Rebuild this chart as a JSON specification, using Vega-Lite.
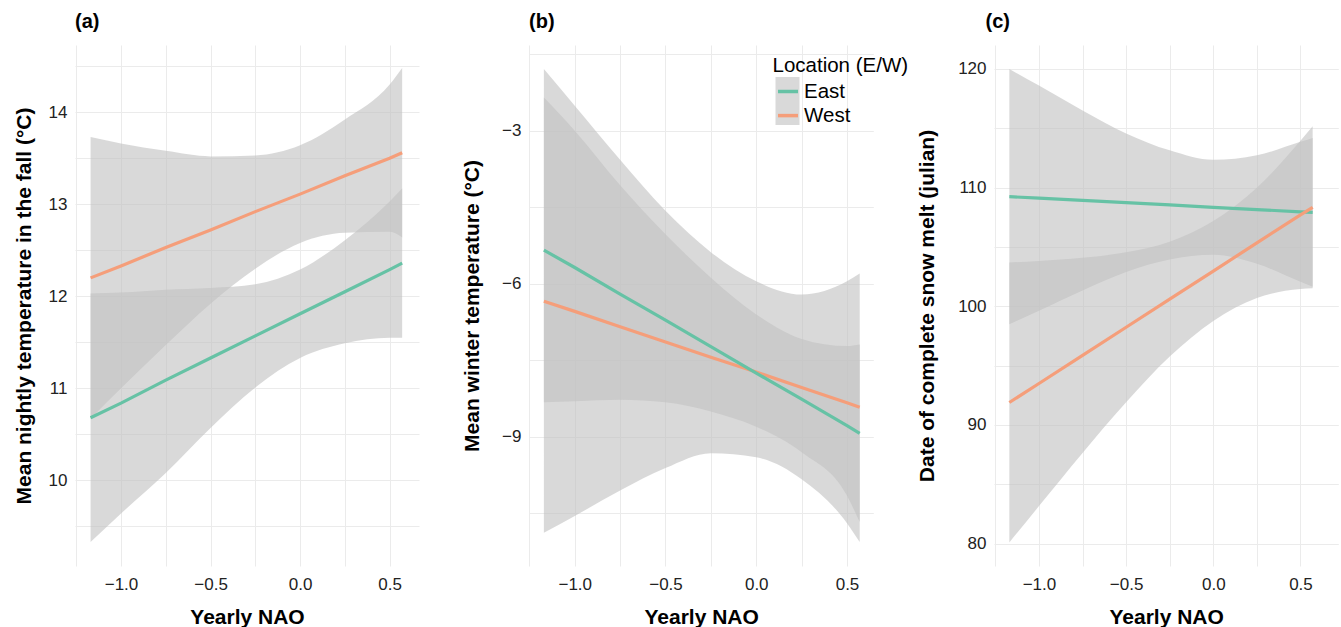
{
  "$schema": "https://vega.github.io/schema/vega-lite/v6.json",
  "background": "white",
  "autosize": {"type": "pad"},
  "padding": {"left": 13, "top": 12, "right": 0, "bottom": 0},
  "config": {
    "font": "Liberation Sans",
    "view": {"stroke": null},
    "axis": {
      "domain": false, "ticks": false, "grid": true, "gridColor": "#ebebeb", "gridWidth": 1,
      "labelFont": "Liberation Sans", "labelFontSize": 17, "labelColor": "#222222",
      "titleFont": "Liberation Sans", "titleFontSize": 21, "titleFontWeight": "bold", "titleColor": "#000000",
      "labelOverlap": false, "labelFlush": false, "labelPadding": 8
    },
    "title": {"font": "Liberation Sans", "fontSize": 20, "fontWeight": "bold", "anchor": "start", "frame": "group", "color": "#000000", "baseline": "alphabetic", "offset": 12.7},
    "concat": {"spacing": 42}
  },
  "data": {"values": [
    {"p": "a", "loc": "West", "x": -1.17, "fit": 12.20, "lo": 10.67, "hi": 13.73},
    {"p": "a", "loc": "West", "x": -1.0, "fit": 12.33, "lo": 11.00, "hi": 13.66},
    {"p": "a", "loc": "West", "x": -0.75, "fit": 12.53, "lo": 11.47, "hi": 13.58},
    {"p": "a", "loc": "West", "x": -0.5, "fit": 12.72, "lo": 11.92, "hi": 13.52},
    {"p": "a", "loc": "West", "x": -0.25, "fit": 12.92, "lo": 12.30, "hi": 13.53},
    {"p": "a", "loc": "West", "x": 0.0, "fit": 13.11, "lo": 12.58, "hi": 13.64},
    {"p": "a", "loc": "West", "x": 0.25, "fit": 13.31, "lo": 12.69, "hi": 13.92},
    {"p": "a", "loc": "West", "x": 0.5, "fit": 13.50, "lo": 12.70, "hi": 14.30},
    {"p": "a", "loc": "West", "x": 0.57, "fit": 13.56, "lo": 12.64, "hi": 14.48},
    {"p": "a", "loc": "East", "x": -1.17, "fit": 10.68, "lo": 9.33, "hi": 12.03},
    {"p": "a", "loc": "East", "x": -1.0, "fit": 10.84, "lo": 9.64, "hi": 12.04},
    {"p": "a", "loc": "East", "x": -0.75, "fit": 11.09, "lo": 10.08, "hi": 12.07},
    {"p": "a", "loc": "East", "x": -0.5, "fit": 11.33, "lo": 10.57, "hi": 12.09},
    {"p": "a", "loc": "East", "x": -0.25, "fit": 11.57, "lo": 11.01, "hi": 12.13},
    {"p": "a", "loc": "East", "x": 0.0, "fit": 11.81, "lo": 11.33, "hi": 12.29},
    {"p": "a", "loc": "East", "x": 0.25, "fit": 12.05, "lo": 11.49, "hi": 12.61},
    {"p": "a", "loc": "East", "x": 0.5, "fit": 12.29, "lo": 11.55, "hi": 13.03},
    {"p": "a", "loc": "East", "x": 0.57, "fit": 12.36, "lo": 11.55, "hi": 13.17},
    {"p": "b", "loc": "West", "x": -1.17, "fit": -6.34, "lo": -10.88, "hi": -1.79},
    {"p": "b", "loc": "West", "x": -1.0, "fit": -6.54, "lo": -10.55, "hi": -2.51},
    {"p": "b", "loc": "West", "x": -0.75, "fit": -6.84, "lo": -10.05, "hi": -3.57},
    {"p": "b", "loc": "West", "x": -0.5, "fit": -7.14, "lo": -9.61, "hi": -4.57},
    {"p": "b", "loc": "West", "x": -0.25, "fit": -7.44, "lo": -9.32, "hi": -5.38},
    {"p": "b", "loc": "West", "x": 0.0, "fit": -7.73, "lo": -9.40, "hi": -5.95},
    {"p": "b", "loc": "West", "x": 0.25, "fit": -8.03, "lo": -9.83, "hi": -6.21},
    {"p": "b", "loc": "West", "x": 0.5, "fit": -8.33, "lo": -10.69, "hi": -5.95},
    {"p": "b", "loc": "West", "x": 0.57, "fit": -8.42, "lo": -11.06, "hi": -5.80},
    {"p": "b", "loc": "East", "x": -1.17, "fit": -5.34, "lo": -8.32, "hi": -2.35},
    {"p": "b", "loc": "East", "x": -1.0, "fit": -5.68, "lo": -8.30, "hi": -3.00},
    {"p": "b", "loc": "East", "x": -0.75, "fit": -6.20, "lo": -8.27, "hi": -4.07},
    {"p": "b", "loc": "East", "x": -0.5, "fit": -6.71, "lo": -8.32, "hi": -5.03},
    {"p": "b", "loc": "East", "x": -0.25, "fit": -7.23, "lo": -8.50, "hi": -5.88},
    {"p": "b", "loc": "East", "x": 0.0, "fit": -7.75, "lo": -8.80, "hi": -6.60},
    {"p": "b", "loc": "East", "x": 0.25, "fit": -8.26, "lo": -9.30, "hi": -7.08},
    {"p": "b", "loc": "East", "x": 0.5, "fit": -8.78, "lo": -10.15, "hi": -7.22},
    {"p": "b", "loc": "East", "x": 0.57, "fit": -8.93, "lo": -10.67, "hi": -7.19},
    {"p": "c", "loc": "East", "x": -1.17, "fit": 109.24, "lo": 98.49, "hi": 119.99},
    {"p": "c", "loc": "East", "x": -1.0, "fit": 109.11, "lo": 99.62, "hi": 118.60},
    {"p": "c", "loc": "East", "x": -0.75, "fit": 108.92, "lo": 101.33, "hi": 116.51},
    {"p": "c", "loc": "East", "x": -0.5, "fit": 108.73, "lo": 102.89, "hi": 114.57},
    {"p": "c", "loc": "East", "x": -0.25, "fit": 108.54, "lo": 103.94, "hi": 113.14},
    {"p": "c", "loc": "East", "x": 0.0, "fit": 108.34, "lo": 104.34, "hi": 112.34},
    {"p": "c", "loc": "East", "x": 0.25, "fit": 108.15, "lo": 103.58, "hi": 112.72},
    {"p": "c", "loc": "East", "x": 0.5, "fit": 107.96, "lo": 102.06, "hi": 113.86},
    {"p": "c", "loc": "East", "x": 0.57, "fit": 107.91, "lo": 101.64, "hi": 114.18},
    {"p": "c", "loc": "West", "x": -1.17, "fit": 91.89, "lo": 80.09, "hi": 103.69},
    {"p": "c", "loc": "West", "x": -1.0, "fit": 93.49, "lo": 83.16, "hi": 103.82},
    {"p": "c", "loc": "West", "x": -0.75, "fit": 95.86, "lo": 87.64, "hi": 104.08},
    {"p": "c", "loc": "West", "x": -0.5, "fit": 98.23, "lo": 91.91, "hi": 104.55},
    {"p": "c", "loc": "West", "x": -0.25, "fit": 100.60, "lo": 95.76, "hi": 105.44},
    {"p": "c", "loc": "West", "x": 0.0, "fit": 102.97, "lo": 98.76, "hi": 107.18},
    {"p": "c", "loc": "West", "x": 0.25, "fit": 105.34, "lo": 100.70, "hi": 109.98},
    {"p": "c", "loc": "West", "x": 0.5, "fit": 107.71, "lo": 101.46, "hi": 113.96},
    {"p": "c", "loc": "West", "x": 0.57, "fit": 108.34, "lo": 101.51, "hi": 115.17}
  ]},
  "resolve": {
    "scale": {"x": "independent", "y": "independent", "stroke": "shared", "fill": "shared"},
    "legend": {"stroke": "shared", "fill": "shared"}
  },
  "hconcat": [
    {
      "width": 344, "height": 521,
      "title": {"text": "(a)"},
      "transform": [{"filter": "datum.p === 'a'"}],
      "layer": [
        {
          "mark": {"type": "area", "interpolate": "monotone", "opacity": 0.62},
          "encoding": {
            "x": {"field": "x", "type": "quantitative", "scale": {"domain": [-1.257, 0.664], "nice": false, "zero": false},
              "axis": {"values": [-1.25, -1, -0.75, -0.5, -0.25, 0, 0.25, 0.5], "labelExpr": "datum.value % 0.5 == 0 ? format(datum.value, '.1f') : ''", "title": "Yearly NAO", "labelPadding": 10, "titlePadding": 14.7}},
            "y": {"field": "lo", "type": "quantitative", "scale": {"domain": [9.07, 14.73], "nice": false, "zero": false},
              "axis": {"values": [9.5, 10, 10.5, 11, 11.5, 12, 12.5, 13, 13.5, 14, 14.5], "labelExpr": "datum.value % 1 == 0 ? format(datum.value, 'd') : ''", "title": "Mean nightly temperature in the fall (°C)", "titlePadding": 14}},
            "y2": {"field": "hi"},
            "fill": {"field": "loc", "type": "nominal", "scale": {"range": ["#c2c2c2", "#c2c2c2"]},
              "legend": {"orient": "none", "legendX": 698.5, "legendY": 32, "title": null, "labelExpr": "''", "labelFontSize": 1, "symbolType": "square", "symbolSize": 576, "symbolStrokeWidth": 0, "rowPadding": 0, "padding": 0, "symbolOffset": 2}}
          }
        },
        {
          "mark": {"type": "line", "strokeWidth": 3.2},
          "encoding": {
            "x": {"field": "x", "type": "quantitative",
              "axis": {"values": [-1.25, -1, -0.75, -0.5, -0.25, 0, 0.25, 0.5], "labelExpr": "datum.value % 0.5 == 0 ? format(datum.value, '.1f') : ''", "title": "Yearly NAO", "labelPadding": 10, "titlePadding": 14.7}},
            "y": {"field": "fit", "type": "quantitative",
              "axis": {"values": [9.5, 10, 10.5, 11, 11.5, 12, 12.5, 13, 13.5, 14, 14.5], "labelExpr": "datum.value % 1 == 0 ? format(datum.value, 'd') : ''", "title": "Mean nightly temperature in the fall (°C)", "titlePadding": 14}},
            "stroke": {"field": "loc", "type": "nominal", "scale": {"domain": ["East", "West"], "range": ["#66c2a5", "#f59e7a"]},
              "legend": {"orient": "none", "legendX": 697.5, "legendY": 11, "title": "Location (E/W)", "titleFontSize": 20.5, "titleFontWeight": "normal", "titleColor": "#000000", "titleFont": "Liberation Sans", "titlePadding": 3, "labelFont": "Liberation Sans", "labelFontSize": 20.5, "labelColor": "#000000", "symbolType": "stroke", "symbolSize": 400, "symbolStrokeWidth": 3.5, "rowPadding": 1.1, "labelOffset": 4, "padding": 0, "symbolOffset": 3.5}}
          }
        }
      ]
    },
    {
      "width": 344.3, "height": 521,
      "title": {"text": "(b)"},
      "transform": [{"filter": "datum.p === 'b'"}],
      "layer": [
        {
          "mark": {"type": "area", "interpolate": "monotone", "opacity": 0.62},
          "encoding": {
            "x": {"field": "x", "type": "quantitative", "scale": {"domain": [-1.252, 0.645], "nice": false, "zero": false},
              "axis": {"values": [-1.25, -1, -0.75, -0.5, -0.25, 0, 0.25, 0.5], "labelExpr": "datum.value % 0.5 == 0 ? format(datum.value, '.1f') : ''", "title": "Yearly NAO", "labelPadding": 10, "titlePadding": 14.7}},
            "y": {"field": "lo", "type": "quantitative", "scale": {"domain": [-11.53, -1.32], "nice": false, "zero": false},
              "axis": {"values": [-10.5, -9, -7.5, -6, -4.5, -3, -1.5], "labelExpr": "datum.value % 3 == 0 ? format(datum.value, 'd') : ''", "title": "Mean winter temperature (°C)", "titlePadding": 19}},
            "y2": {"field": "hi"},
            "fill": {"field": "loc", "type": "nominal", "scale": {"range": ["#c2c2c2", "#c2c2c2"]},
              "legend": {"orient": "none", "legendX": 698.5, "legendY": 32, "title": null, "labelExpr": "''", "labelFontSize": 1, "symbolType": "square", "symbolSize": 576, "symbolStrokeWidth": 0, "rowPadding": 0, "padding": 0, "symbolOffset": 2}}
          }
        },
        {
          "mark": {"type": "line", "strokeWidth": 3.2},
          "encoding": {
            "x": {"field": "x", "type": "quantitative",
              "axis": {"values": [-1.25, -1, -0.75, -0.5, -0.25, 0, 0.25, 0.5], "labelExpr": "datum.value % 0.5 == 0 ? format(datum.value, '.1f') : ''", "title": "Yearly NAO", "labelPadding": 10, "titlePadding": 14.7}},
            "y": {"field": "fit", "type": "quantitative",
              "axis": {"values": [-10.5, -9, -7.5, -6, -4.5, -3, -1.5], "labelExpr": "datum.value % 3 == 0 ? format(datum.value, 'd') : ''", "title": "Mean winter temperature (°C)", "titlePadding": 19}},
            "stroke": {"field": "loc", "type": "nominal", "scale": {"domain": ["East", "West"], "range": ["#66c2a5", "#f59e7a"]},
              "legend": {"orient": "none", "legendX": 697.5, "legendY": 11, "title": "Location (E/W)", "titleFontSize": 20.5, "titleFontWeight": "normal", "titleColor": "#000000", "titleFont": "Liberation Sans", "titlePadding": 3, "labelFont": "Liberation Sans", "labelFontSize": 20.5, "labelColor": "#000000", "symbolType": "stroke", "symbolSize": 400, "symbolStrokeWidth": 3.5, "rowPadding": 1.1, "labelOffset": 4, "padding": 0, "symbolOffset": 3.5}}
          }
        }
      ]
    },
    {
      "width": 344.3, "height": 521,
      "title": {"text": "(c)", "dx": -8.5},
      "transform": [{"filter": "datum.p === 'c'"}],
      "layer": [
        {
          "mark": {"type": "area", "interpolate": "monotone", "opacity": 0.62},
          "encoding": {
            "x": {"field": "x", "type": "quantitative", "scale": {"domain": [-1.258, 0.717], "nice": false, "zero": false},
              "axis": {"values": [-1.25, -1, -0.75, -0.5, -0.25, 0, 0.25, 0.5], "labelExpr": "datum.value % 0.5 == 0 ? format(datum.value, '.1f') : ''", "title": "Yearly NAO", "labelPadding": 10, "titlePadding": 14.7}},
            "y": {"field": "lo", "type": "quantitative", "scale": {"domain": [78.11, 122.02], "nice": false, "zero": false},
              "axis": {"values": [80, 85, 90, 95, 100, 105, 110, 115, 120], "labelExpr": "datum.value % 10 == 0 ? format(datum.value, 'd') : ''", "title": "Date of complete snow melt (julian)", "titlePadding": 20}},
            "y2": {"field": "hi"},
            "fill": {"field": "loc", "type": "nominal", "scale": {"range": ["#c2c2c2", "#c2c2c2"]},
              "legend": {"orient": "none", "legendX": 698.5, "legendY": 32, "title": null, "labelExpr": "''", "labelFontSize": 1, "symbolType": "square", "symbolSize": 576, "symbolStrokeWidth": 0, "rowPadding": 0, "padding": 0, "symbolOffset": 2}}
          }
        },
        {
          "mark": {"type": "line", "strokeWidth": 3.2},
          "encoding": {
            "x": {"field": "x", "type": "quantitative",
              "axis": {"values": [-1.25, -1, -0.75, -0.5, -0.25, 0, 0.25, 0.5], "labelExpr": "datum.value % 0.5 == 0 ? format(datum.value, '.1f') : ''", "title": "Yearly NAO", "labelPadding": 10, "titlePadding": 14.7}},
            "y": {"field": "fit", "type": "quantitative",
              "axis": {"values": [80, 85, 90, 95, 100, 105, 110, 115, 120], "labelExpr": "datum.value % 10 == 0 ? format(datum.value, 'd') : ''", "title": "Date of complete snow melt (julian)", "titlePadding": 20}},
            "stroke": {"field": "loc", "type": "nominal", "scale": {"domain": ["East", "West"], "range": ["#66c2a5", "#f59e7a"]},
              "legend": {"orient": "none", "legendX": 697.5, "legendY": 11, "title": "Location (E/W)", "titleFontSize": 20.5, "titleFontWeight": "normal", "titleColor": "#000000", "titleFont": "Liberation Sans", "titlePadding": 3, "labelFont": "Liberation Sans", "labelFontSize": 20.5, "labelColor": "#000000", "symbolType": "stroke", "symbolSize": 400, "symbolStrokeWidth": 3.5, "rowPadding": 1.1, "labelOffset": 4, "padding": 0, "symbolOffset": 3.5}}
          }
        }
      ]
    }
  ]
}
